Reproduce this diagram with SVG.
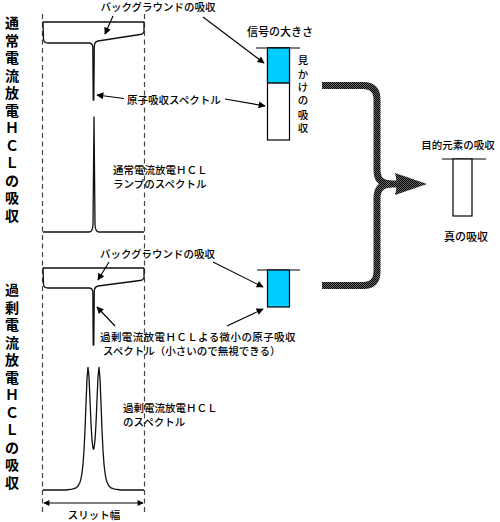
<svg xmlns="http://www.w3.org/2000/svg" width="500" height="522" viewBox="0 0 500 522">
<style>
text{font-family:"Noto Sans CJK JP","Noto Sans CJK SC",sans-serif;fill:#000;font-weight:500;}
.s{font-size:10.5px;}
.v{font-size:14px;text-anchor:middle;font-weight:bold;}
.m{text-anchor:middle;}
.ln{fill:none;stroke:#000;stroke-width:1.2;}
.cv{fill:none;stroke:#111;stroke-width:1.3;stroke-linejoin:round;}
.dash{fill:none;stroke:#444;stroke-width:1.2;stroke-dasharray:5 3.5;}
.ar{fill:none;stroke:#000;stroke-width:1.1;marker-end:url(#ah);}
.big{fill:none;stroke:url(#dither);stroke-width:7;}
.bar{fill:#fff;stroke:#000;stroke-width:1.2;}
.cyan{fill:#00CCFF;stroke:#000;stroke-width:1.2;}
</style>
<defs>
<marker id="ah" viewBox="0 0 10 10" refX="9" refY="5" markerWidth="8" markerHeight="7" markerUnits="userSpaceOnUse" orient="auto">
<path d="M0,0 L10,5 L0,10 Z" fill="#000"/>
</marker>
<marker id="ahs" viewBox="0 0 10 10" refX="9" refY="5" markerWidth="7" markerHeight="6" markerUnits="userSpaceOnUse" orient="auto-start-reverse">
<path d="M0,0 L10,5 L0,10 Z" fill="#000"/>
</marker>
<pattern id="dither" width="2" height="2" patternUnits="userSpaceOnUse">
<rect width="2" height="2" fill="#666"/>
<rect width="1" height="1" fill="#000"/>
<rect x="1" y="1" width="1" height="1" fill="#000"/>
</pattern>
</defs>

<g id="left-labels">
<text class="v" x="12 12 12 12 12 12 12 12 12 12 12 12" y="28 45.5 63 80.5 98 115.5 133 150.5 168 185.5 203 220.5">通常電流放電ＨＣＬの吸収</text>
<text class="v" x="12 12 12 12 12 12 12 12 12 12 12 12" y="295 312.5 330 347.5 365 382.5 400 417.5 435 452.5 470 487.5">過剰電流放電ＨＣＬの吸収</text>
</g>

<g id="slit">
<line class="dash" x1="42.5" y1="14" x2="42.5" y2="512"/>
<line class="dash" x1="144.5" y1="14" x2="144.5" y2="512"/>
<line x1="44" y1="503" x2="143" y2="503" stroke="#000" stroke-width="1.2" marker-start="url(#ahs)" marker-end="url(#ahs)"/>
<text class="s m" x="94" y="519">スリット幅</text>
</g>

<g id="absorption-normal">
<path class="cv" d="M43,22 H144 V31 Q144,34 140,34.5 L98,41 Q94.5,41.8 94.3,46 L93.8,100 L93.2,100 L92.8,47 Q92.5,43 89,43 H48 Q43.5,43 43.5,39 Z"/>
<text class="s m" x="158" y="11">バックグラウンドの吸収</text>
<text class="s" x="127" y="104">原子吸収スペクトル</text>
</g>

<g id="emission-normal">
<path class="cv" d="M43,232 H89 Q92.5,232 93,225 L94,117 L95,225 Q95.5,232 99,232 H144"/>
<text class="s" x="113" y="173.5">通常電流放電ＨＣＬ</text>
<text class="s" x="113" y="187.5">ランプのスペクトル</text>
</g>

<g id="absorption-excess">
<path class="cv" d="M43,268 H144 V277 Q144,280 140,280.5 L98,286 Q94.5,286.8 94.3,291 L93.8,345 L93.2,345 L92.8,292 Q92.5,288 89,288 H48 Q43.5,288 43.5,284 Z"/>
<text class="s" x="100" y="258">バックグラウンドの吸収</text>
<text class="s" x="100" y="340.5" style="letter-spacing:0.4px">過剰電流放電ＨＣＬよる微小の原子吸収</text>
<text class="s" x="103" y="354.5">スペクトル（小さいので無視できる）</text>
</g>

<g id="emission-excess">
<path class="cv" d="M43,490 H66 L72,489.2 L74,488.7 L76,487.9 L78,486.1 L80,482.2 L81,478.6 L82,473 L83,464.1 L84,450.2 L85,429.8 L86,403.6 L87,378.6 L88,367.3 L89,376.9 L90,400 L91,423.5 L92,440.2 L93,448.3 L93.5,449.3 L94,448.3 L95,440.2 L96,423.5 L97,400 L98,376.9 L99,367.3 L100,378.6 L101,403.6 L102,429.8 L103,450.2 L104,464.1 L105,473 L106,478.6 L107,482.2 L109,486.1 L111,487.9 L113,488.7 L115,489.2 L121,490 H144"/>
<text class="s" x="123" y="412">過剰電流放電ＨＣＬ</text>
<text class="s" x="123" y="426">のスペクトル</text>
</g>

<g id="bar-apparent">
<text class="s m" x="280" y="36" style="font-size:11px">信号の大きさ</text>
<line class="ln" x1="256" y1="48" x2="300" y2="48"/>
<rect class="bar" x="267.5" y="48" width="22" height="92"/>
<rect x="267.5" y="48" width="22" height="35" fill="#00CCFF" stroke="#000" stroke-width="1.2"/>
<line x1="267.5" y1="83" x2="289.5" y2="83" stroke="#000" stroke-width="1" stroke-dasharray="1 1"/>
<text class="s m" x="303 303 303 303 303 303" y="64 78 91 104 119 132">見かけの吸収</text>
</g>

<g id="bar-background">
<line class="ln" x1="257" y1="270" x2="300" y2="270"/>
<rect class="cyan" x="267.5" y="270" width="22" height="37"/>
</g>

<g id="bar-true">
<text class="s m" x="458" y="149">目的元素の吸収</text>
<line class="ln" x1="442" y1="159" x2="486" y2="159"/>
<rect class="bar" x="453" y="159" width="19" height="57"/>
<text class="s m" x="466" y="241" style="font-size:11px">真の吸収</text>
</g>

<g id="connectors">
<line class="ar" x1="113" y1="16" x2="105" y2="34"/>
<line class="ar" x1="203" y1="17" x2="264" y2="63"/>
<line class="ar" x1="124" y1="98.5" x2="97" y2="95"/>
<line class="ar" x1="225" y1="99" x2="265" y2="106"/>
<line class="ar" x1="109" y1="262" x2="98" y2="280"/>
<line class="ar" x1="213" y1="262" x2="263" y2="287"/>
<line class="ar" x1="115" y1="326" x2="97" y2="307"/>
<line class="ar" x1="227" y1="326" x2="263" y2="309"/>
<path class="big" d="M322,85.5 H363 Q377,85.5 377,99.5 V170 Q377,184 391,184 H398"/>
<path class="big" d="M322,285.5 H363 Q377,285.5 377,271.5 V198 Q377,184 391,184"/>
<path d="M395,173 L427,184 L395,195 Q398,184 395,173 Z" fill="url(#dither)"/>
</g>
</svg>
